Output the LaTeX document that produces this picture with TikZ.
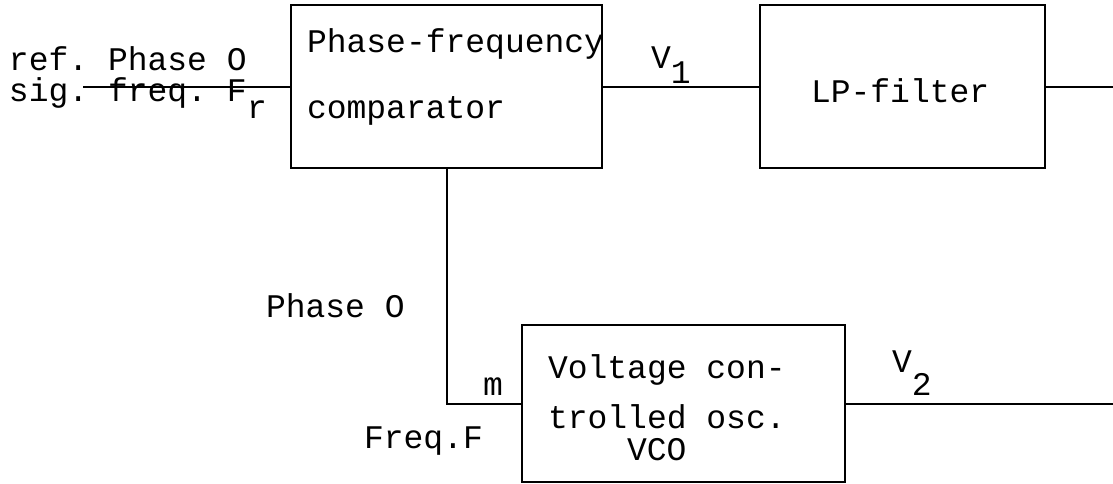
\documentclass[tikz,border=0pt]{standalone}
\usepackage{fontspec}
\setmonofont{Liberation Mono}

\begin{document}
\begin{tikzpicture}[x=0.5pt, y=-0.5pt, line width=1pt,
  box/.style={draw, rectangle, inner sep=0pt, outer sep=0pt},
  lbl/.style={anchor=base west, inner sep=0pt, font=\ttfamily\fontsize{16.5}{20}\selectfont}]
\useasboundingbox (0,0) rectangle (1113,483);
% blocks
\node[box, minimum width=155.5pt, minimum height=81.5pt] (cmp) at (446.5,86.5) {};
\node[box, minimum width=142.5pt, minimum height=81.5pt] (lp) at (902.5,86.5) {};
\node[box, minimum width=161.5pt, minimum height=78.5pt] (vco) at (683.5,403.5) {};
% texts
\node[lbl] (refA) at (8,70) {ref. Phase O};
\node[lbl] (refB) at (8,101) {sig. freq. F};
\node[lbl] (refR) at (246,118) {r};
\node[lbl] (cmpA) at (306,52) {Phase-frequency};
\node[lbl] (cmpB) at (306,118) {comparator};
\node[lbl] (vA) at (650,68) {V\raisebox{-7.5pt}{1}};
\node[lbl] (lpA) at (810,102) {LP-filter};
\node[lbl] (phO) at (265,317) {Phase O};
\node[lbl] (mm) at (482,395) {m};
\node[lbl] (frq) at (363,448) {Freq.F};
\node[lbl] (vcoA) at (547,378) {Voltage con-};
\node[lbl] (vcoB) at (547,428) {trolled osc.};
\node[lbl] (vcoC) at (626,460) {VCO};
\node[lbl] (vB) at (891,372) {V\raisebox{-11.5pt}{2}};
% connectors
\coordinate (sig) at (83,86.5);
\coordinate (out1) at (1113,86.5);
\coordinate (out2) at (1113,403.5);
\draw (sig) -- (cmp.west);
\draw (cmp.east) -- (lp.west);
\draw (lp.east) -- (out1);
\draw (cmp.south) |- (vco.west);
\draw (vco.east) -- (out2);
\end{tikzpicture}
\end{document}
